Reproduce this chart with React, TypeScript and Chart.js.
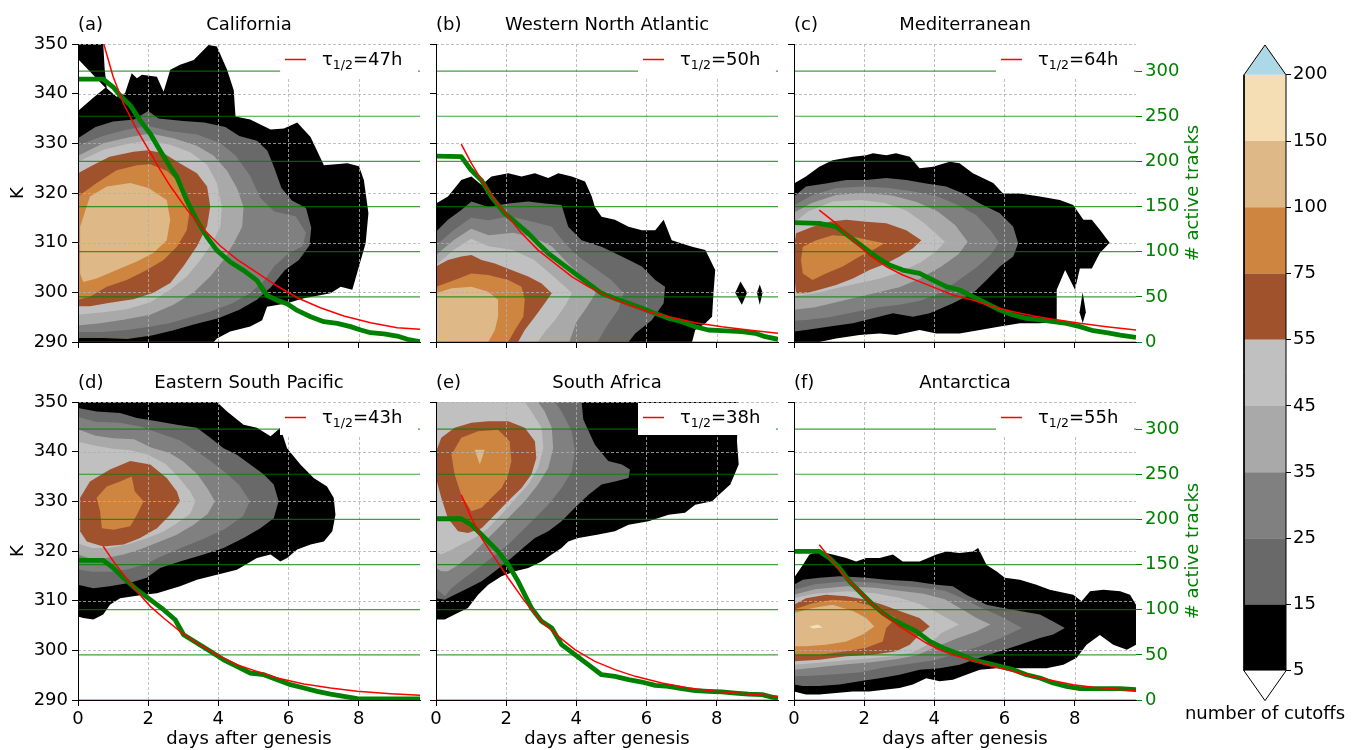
import React, { useEffect, useRef } from 'react';
import { Chart, registerables } from 'chart.js';

Chart.register(...registerables);

const FONT_FAMILY = '"DejaVu Sans", "Liberation Sans", sans-serif';
Chart.defaults.font.family = FONT_FAMILY;
Chart.defaults.font.size = 18;
Chart.defaults.color = '#000000';

// ---------- axis ranges ----------
const DAY_MIN = 0;
const DAY_MAX = 9.75;
const DAY_STEP = 2;
const K_MIN = 290;
const K_MAX = 350;
const K_STEP = 10;
const TRACKS_MIN = 0;
const TRACKS_MAX = 330;
const TRACKS_STEP = 50;

// ---------- colour levels ----------
const LEVEL_LABELS = ['5', '15', '25', '35', '45', '55', '75', '100', '150', '200'];
const LEVEL_COLORS = ['#000000', '#696969', '#808080', '#a9a9a9', '#c0c0c0', '#a0522d', '#cd853f', '#deb887', '#f5deb3'];
const OVER_COLOR = '#add8e6';
const UNDER_COLOR = '#ffffff';
const EXTEND = 0.45;

// ---------- panel texts ----------
const PANEL_LETTERS = ['(a)', '(b)', '(c)', '(d)', '(e)', '(f)'];
const PANEL_TITLES = ['California', 'Western North Atlantic', 'Mediterranean', 'Eastern South Pacific', 'South Africa', 'Antarctica'];
const HALF_LIFE_HOURS = [47, 50, 64, 43, 38, 55];

// ---------- active tracks (day, count) ----------
const caTracks = [[0, 291], [0.72, 291], [1.0, 282.3], [1.2, 273], [1.49, 262], [1.77, 245.4], [2.06, 230.6], [2.34, 212], [2.63, 193.7], [2.82, 182.6], [3.1, 156.8], [3.39, 134.7], [3.68, 116.2], [3.96, 101.5], [4.34, 88.6], [4.72, 79.3], [5.1, 68.3], [5.39, 51.7], [5.68, 46.1], [5.96, 42.4], [6.25, 35], [6.63, 28], [7.01, 22.5], [7.39, 20.7], [7.77, 17], [8.06, 13.3], [8.34, 10.3], [8.72, 8.9], [9.1, 6.6], [9.39, 3], [9.75, 0.4]];
const wnaTracks = [[0, 205.9], [0.72, 205.2], [1.0, 190.4], [1.29, 179.3], [1.58, 160.9], [1.96, 142.4], [2.25, 133.2], [2.63, 120.3], [2.91, 109.2], [3.2, 98.2], [3.58, 87.1], [3.96, 76], [4.34, 64.9], [4.72, 53.9], [5.1, 48.3], [5.49, 42.8], [5.87, 37.3], [6.25, 31.7], [6.63, 26.2], [7.01, 22.5], [7.39, 16.9], [7.77, 13.3], [8.15, 12.5], [8.72, 11.4], [9.1, 9.6], [9.39, 5.9], [9.75, 3]];
const medTracks = [[0, 132.1], [0.72, 131.4], [1.2, 127.7], [1.58, 116.6], [1.96, 105.5], [2.34, 94.5], [2.72, 85.2], [3.1, 79.7], [3.58, 76], [3.96, 68.6], [4.34, 61.3], [4.72, 57.6], [5.1, 50.2], [5.49, 42.8], [5.87, 35.4], [6.25, 29.9], [6.63, 26.2], [7.01, 24.4], [7.39, 22.5], [7.77, 20.7], [8.15, 17], [8.53, 12.5], [8.91, 10.3], [9.3, 7.7], [9.75, 5.2]];
const espTracks = [[0, 154.6], [0.72, 154.6], [1.01, 146.1], [1.3, 135.1], [1.68, 122.1], [2.06, 111.1], [2.44, 100], [2.77, 88.9], [3.01, 72.3], [3.39, 63.1], [3.77, 53.9], [4.15, 44.6], [4.53, 37.3], [4.91, 29.9], [5.3, 28], [5.68, 22.5], [6.06, 17], [6.44, 13.3], [6.82, 9.6], [7.2, 6.6], [7.58, 4.1], [7.96, 1.5], [8.34, 1.1], [9.75, 1.1]];
const safTracks = [[0, 200.7], [0.72, 200.7], [1.01, 194.1], [1.3, 183], [1.58, 171.9], [1.77, 164.6], [2.06, 149.8], [2.34, 131.4], [2.72, 101.8], [3.01, 87.1], [3.3, 79.7], [3.58, 61.3], [3.96, 50.2], [4.34, 39.1], [4.72, 28], [5.1, 26.2], [5.49, 22.5], [5.87, 19.9], [6.25, 16.2], [6.63, 15.1], [7.01, 12.5], [7.39, 10.3], [7.77, 9.6], [8.15, 8.9], [8.53, 7.7], [8.91, 6.6], [9.3, 5.9], [9.75, 1.5]];
const antTracks = [[0, 164.6], [0.72, 164.6], [1.01, 157.2], [1.3, 146.1], [1.58, 131.4], [1.96, 116.6], [2.25, 105.5], [2.53, 96.3], [2.82, 88.9], [3.1, 83.4], [3.49, 76], [3.87, 65], [4.25, 57.6], [4.63, 52], [5.1, 44.6], [5.49, 41], [5.87, 37.3], [6.25, 33.6], [6.63, 28], [7.01, 24.4], [7.39, 18.8], [7.77, 15.1], [8.15, 12.5], [8.72, 12.5], [9.3, 12.5], [9.75, 11.4]];

// ---------- exponential fits (day, count) ----------
const caFit = [[0.72, 332], [1.0, 294], [1.29, 264.6], [1.68, 235], [2.01, 213], [2.34, 191], [2.63, 172.7], [3.1, 146.9], [3.58, 124.7], [4.06, 106.3], [4.53, 91.5], [5.1, 76.8], [5.68, 62], [6.25, 49], [6.91, 38], [7.58, 28.8], [8.34, 21.4], [9.1, 15.9], [9.75, 14]];
const wnaFit = [[0.72, 219.2], [1.01, 197.8], [1.3, 179.3], [1.68, 157.2], [2.06, 138.7], [2.44, 120.3], [2.91, 101.8], [3.39, 87.1], [3.87, 72.3], [4.34, 61.3], [4.91, 50.2], [5.49, 41], [6.06, 33.6], [6.63, 28], [7.39, 21.4], [8.15, 17], [8.91, 13.3], [9.75, 9.6]];
const medFit = [[0.72, 146.1], [1.2, 131.4], [1.68, 112.9], [2.15, 96.3], [2.63, 83.4], [3.1, 74.2], [3.58, 66.8], [4.06, 59.4], [4.53, 52], [5.1, 46.5], [5.68, 39.1], [6.25, 33.6], [6.82, 28.8], [7.39, 25.1], [8.15, 20.7], [8.91, 17], [9.75, 13.3]];
const espFit = [[0.72, 170.1], [1.01, 153.5], [1.3, 138.7], [1.68, 120.3], [2.06, 103.7], [2.44, 90.8], [2.91, 76], [3.39, 63.1], [3.96, 50.2], [4.53, 39.1], [5.1, 31.7], [5.68, 24.4], [6.44, 17.7], [7.2, 13.3], [7.96, 9.6], [8.91, 7], [9.75, 5.2]];
const safFit = [[0.72, 227.3], [1.01, 201.5], [1.3, 179.3], [1.68, 157.2], [2.06, 135.1], [2.53, 109.2], [3.01, 87.1], [3.49, 70.5], [3.96, 55.7], [4.53, 42.8], [5.1, 33.6], [5.68, 26.2], [6.44, 18.8], [7.2, 13.3], [7.96, 9.6], [8.91, 6.6], [9.75, 4.1]];
const antFit = [[0.72, 172], [1.1, 153.5], [1.49, 135.1], [1.87, 120.3], [2.25, 105.5], [2.63, 92.6], [3.01, 81.5], [3.39, 72.3], [3.77, 63.1], [4.15, 55.7], [4.53, 50.2], [5.01, 44.6], [5.49, 39.1], [5.96, 34.7], [6.44, 29.9], [6.91, 25.1], [7.39, 21.4], [7.96, 17], [8.53, 14], [9.1, 12.5], [9.75, 10.3]];

// ---------- contour outlines: [level index, (day, K) ring] ----------
const caRings: [number, number[][]][] = [
  [0, [[0, 350], [0.72, 350], [0.76, 345], [0.82, 341.1], [1.1, 339.4], [1.34, 340.1], [1.53, 344.1], [1.68, 343.1], [1.82, 343.8], [2.25, 343.4], [2.44, 340.4], [2.63, 344.8], [2.91, 345.8], [3.3, 346.8], [3.72, 349.8], [3.96, 349.5], [4.25, 344.8], [4.44, 340.7], [4.49, 335.4], [4.91, 334.8], [5.49, 332.8], [5.87, 333], [6.25, 334.2], [6.63, 331.3], [7.01, 325.6], [7.68, 326], [8.01, 325.4], [8.15, 322.6], [8.28, 315.9], [8.2, 309.9], [8.01, 305.2], [7.82, 300.5], [7.49, 301.1], [7.2, 299.8], [6.44, 298.8], [5.96, 297.8], [5.39, 297.1], [5.25, 294.4], [4.91, 293.1], [4.34, 292.1], [3.96, 290.7], [3.87, 290], [0, 290], [0, 336.5], [0.4, 339], [0.78, 341.2], [0.4, 344], [0, 347]]],
  [1, [[0, 331], [0.5, 333.3], [1.0, 334.4], [1.6, 334.8], [2.0, 336.5], [2.3, 335], [3.0, 334.5], [3.6, 334.2], [4.2, 333.3], [4.6, 331.5], [5.1, 330.5], [5.4, 328.5], [5.6, 325], [5.8, 321], [6.1, 318.5], [6.5, 317], [6.65, 313], [6.6, 309.5], [6.3, 306.5], [5.9, 304.5], [5.5, 301], [5.1, 298.5], [4.6, 296.5], [4.0, 294.8], [3.3, 293.5], [2.7, 292.3], [2.1, 291.3], [1.4, 290.6], [0.7, 290.8], [0, 290.8]]],
  [2, [[0, 329.5], [0.7, 331.5], [1.4, 332.8], [2.0, 333.5], [2.6, 332.5], [3.4, 331.8], [4.06, 330], [4.5, 327.5], [4.9, 323.5], [5.2, 319], [5.6, 316.3], [6.2, 315.3], [6.5, 312], [6.4, 309.3], [6.0, 307.8], [5.6, 305.3], [5.3, 302.3], [4.9, 299.8], [4.4, 297.8], [3.8, 296.2], [3.2, 295], [2.6, 293.8], [2.0, 293], [1.4, 292.4], [0.7, 292], [0, 292]]],
  [3, [[0, 327.5], [0.72, 330], [1.49, 331.3], [2.06, 332], [2.72, 331], [3.39, 329.5], [3.87, 327.5], [4.25, 324.5], [4.53, 321], [4.72, 317.2], [4.68, 313.2], [4.44, 309.9], [4.15, 306.5], [3.77, 303.2], [3.3, 300], [2.72, 297.5], [2.06, 295.5], [1.3, 294.5], [0.63, 293.8], [0, 293.3]]],
  [4, [[0, 326.3], [0.72, 328.7], [1.49, 330], [2.06, 330.5], [2.63, 329.7], [3.2, 328.2], [3.68, 325.7], [3.96, 322], [4.1, 317.2], [4.06, 313.2], [3.82, 309.9], [3.49, 306.5], [3.1, 303.2], [2.63, 300.5], [2.06, 298], [1.39, 296.6], [0.72, 296], [0, 295.5]]],
  [5, [[0, 324], [0.34, 325.3], [0.9, 327.3], [1.58, 328.3], [2.0, 328.6], [2.44, 328], [2.9, 326], [3.39, 324], [3.68, 321.3], [3.77, 317.3], [3.68, 313.3], [3.39, 309.3], [3.01, 305.3], [2.63, 301.9], [2.15, 299.9], [1.58, 298.6], [0.91, 297.9], [0.34, 297.2], [0, 297.2]]],
  [6, [[0, 319.3], [0.53, 322], [1.1, 324.6], [1.68, 325.6], [2.06, 325.8], [2.53, 324.5], [3.01, 321.3], [3.2, 317.2], [3.1, 312.5], [2.82, 309.2], [2.44, 306.5], [1.96, 304.5], [1.39, 302.5], [0.82, 301.1], [0.34, 299.1], [0, 298.5]]],
  [7, [[0.06, 303.8], [0.06, 313.2], [0.34, 319.3], [0.82, 321.3], [1.49, 322], [2.01, 321], [2.53, 318.6], [2.63, 314.6], [2.53, 310.5], [2.15, 307.9], [1.68, 306.2], [1.1, 304.5], [0.53, 302.8], [0.15, 302.1]]],
];

const wnaRings: [number, number[][]][] = [
  [0, [[0, 317.9], [0.34, 319.3], [0.72, 322.6], [1.01, 323.3], [1.3, 321.6], [1.58, 323.3], [2.06, 324], [2.44, 323.3], [2.82, 324], [3.2, 323], [3.49, 324], [3.87, 323.3], [4.25, 322.3], [4.44, 319.3], [4.53, 317.2], [4.72, 315.2], [5.1, 314.6], [5.49, 313.2], [5.87, 312.5], [6.25, 312.5], [6.49, 314.6], [6.72, 310.5], [7.3, 309.2], [7.68, 308.5], [7.96, 304.5], [7.91, 299.8], [7.87, 295.1], [7.68, 293.8], [7.39, 292.4], [7.3, 290], [0, 290]]],
  [0, [[8.53, 299.9], [8.68, 302.2], [8.87, 299.9], [8.72, 297.5]]],
  [0, [[9.15, 299.9], [9.23, 301.6], [9.31, 299.9], [9.23, 297.5]]],
  [1, [[0, 312.2], [0.34, 314.6], [0.72, 316.6], [1.01, 318.3], [1.49, 317.2], [2.06, 317.9], [2.63, 318.3], [3.1, 317.9], [3.58, 317.6], [3.77, 313.2], [4.15, 310.5], [4.72, 309.2], [5.3, 307.2], [5.87, 305.2], [6.25, 302.5], [6.53, 301.1], [6.49, 297.8], [6.15, 294.4], [5.68, 291.7], [5.49, 290], [0, 290]]],
  [2, [[0, 309.5], [0.5, 312.5], [1.0, 315], [1.5, 314.5], [2.1, 315.3], [2.7, 314.3], [3.3, 313.2], [3.6, 310.5], [4.0, 307.5], [4.5, 305], [5.0, 302.5], [5.35, 299.8], [5.2, 296.5], [4.9, 293.5], [4.6, 290], [0, 290]]],
  [3, [[0, 307.5], [0.5, 310.5], [1.0, 312.8], [1.5, 311.5], [2.2, 312], [2.8, 311], [3.3, 309.3], [3.7, 306.3], [4.1, 303.5], [4.5, 300.8], [4.55, 299.8], [4.3, 297], [4.0, 294], [3.8, 290], [0, 290]]],
  [4, [[0, 305.5], [0.5, 308.5], [1.0, 310.8], [1.5, 309.3], [2.2, 308.5], [2.8, 306.5], [3.3, 303.5], [3.7, 301], [3.87, 299.8], [3.7, 297.5], [3.4, 294.5], [3.1, 292], [2.9, 290], [0, 290]]],
  [5, [[0, 305.2], [0.34, 306.5], [0.72, 307.2], [1.01, 307.5], [1.3, 306.5], [1.68, 305.8], [2.15, 304.5], [2.63, 303.2], [3.01, 301.8], [3.3, 299.8], [3.1, 297.8], [2.82, 295.1], [2.53, 292.4], [2.34, 290], [0, 290]]],
  [6, [[0, 301.1], [0.53, 302.5], [1.01, 303.8], [1.49, 303.5], [2.06, 302.5], [2.44, 301.1], [2.53, 298.5], [2.49, 295.1], [2.25, 292.4], [2.06, 290], [0, 290]]],
  [7, [[0, 299.8], [0.44, 300.8], [1.01, 301.1], [1.49, 300.1], [1.77, 298.5], [1.77, 295.1], [1.68, 292.4], [1.49, 290], [0, 290]]],
];

const medRings: [number, number[][]][] = [
  [0, [[0, 321.9], [0.34, 323.3], [0.72, 325.3], [1.1, 326.6], [1.68, 327.3], [2.06, 327.6], [2.25, 328], [2.63, 327.6], [2.91, 328], [3.3, 327.3], [3.58, 325], [3.96, 325.3], [4.44, 326.3], [4.72, 326], [5.1, 324], [5.68, 322], [5.96, 319.9], [6.44, 319.9], [7.01, 319.3], [7.58, 318.6], [7.96, 317.6], [8.25, 314.6], [8.49, 314.6], [8.72, 312.6], [9.0, 310], [8.72, 307.9], [8.49, 304.8], [8.15, 304.8], [8.01, 300.5], [7.73, 304.5], [7.49, 300.5], [7.49, 294.1], [7.01, 293.8], [6.44, 293.8], [5.87, 293.1], [5.3, 292.4], [4.72, 291.7], [4.06, 291.7], [3.58, 292.4], [2.91, 291.4], [2.44, 291.7], [1.87, 291.4], [1.2, 290.7], [0.72, 290], [0, 290]]],
  [0, [[8.23, 300], [8.32, 296], [8.23, 293.8], [8.14, 296]]],
  [1, [[0, 319.3], [0.34, 321.3], [0.91, 321.9], [1.49, 322.6], [2.06, 322.6], [2.63, 323], [3.2, 322.6], [3.77, 321.9], [4.34, 321.3], [4.82, 319.9], [5.3, 317.9], [5.87, 315.9], [6.25, 313.2], [6.39, 309.9], [6.25, 307.2], [5.87, 305.2], [5.49, 302.5], [5.1, 299.8], [4.53, 297.8], [3.87, 295.8], [3.39, 295.1], [2.82, 295.8], [2.25, 294.8], [1.68, 293.8], [1.01, 293.1], [0.34, 292.4], [0, 292.1]]],
  [2, [[0, 317.5], [0.5, 319.5], [1.2, 321], [2, 321.3], [2.7, 321], [3.4, 320.3], [4.1, 319.3], [4.7, 317.5], [5.2, 315.5], [5.6, 312.5], [5.85, 310], [5.6, 307.5], [5.2, 305], [4.7, 302.5], [4.2, 300], [3.6, 298.3], [3.0, 297.5], [2.4, 297], [1.7, 296], [1.0, 295], [0.4, 294.5], [0, 294.3]]],
  [3, [[0, 316], [0.5, 318], [1.2, 319.6], [2, 320], [2.8, 319.5], [3.5, 318.2], [4.1, 316.3], [4.6, 313.5], [4.95, 310.2], [4.7, 307.7], [4.2, 305.2], [3.6, 302.8], [3.0, 301], [2.4, 300], [1.8, 299], [1.2, 298], [0.6, 297], [0, 296.5]]],
  [4, [[0, 314], [0.4, 316.3], [1.1, 318.3], [1.9, 318.6], [2.6, 318], [3.2, 316.5], [3.7, 314], [4.1, 311.5], [4.3, 310.2], [4.05, 308.2], [3.6, 306], [3.0, 304], [2.4, 302.7], [1.8, 301.8], [1.2, 300.8], [0.6, 299.8], [0, 299.2]]],
  [5, [[0, 309.2], [0.06, 311.9], [0.53, 313.2], [1.01, 314.2], [1.49, 314.6], [2.06, 314.2], [2.63, 313.9], [3.2, 312.5], [3.63, 310.5], [3.39, 308.9], [3.01, 307.2], [2.63, 305.8], [2.15, 304.5], [1.68, 302.8], [1.2, 301.5], [0.72, 300.5], [0.34, 299.8], [0.06, 299.8], [0, 303.8]]],
  [6, [[0.2, 306.5], [0.25, 309.2], [0.63, 310.5], [1.1, 311.5], [1.68, 311.2], [2.15, 310.5], [2.58, 309.9], [2.25, 308.5], [1.87, 307.2], [1.39, 305.2], [0.91, 303.8], [0.53, 302.5], [0.25, 303.8]]],
];

const espRings: [number, number[][]][] = [
  [0, [[0, 350], [3.96, 350], [4.25, 348.1], [4.72, 345.4], [5.1, 344.8], [5.49, 343.1], [5.77, 344.8], [5.96, 340.7], [6.34, 337.4], [6.72, 334.7], [7.1, 333], [7.29, 330.7], [7.34, 327.3], [7.25, 324], [7.01, 321.9], [6.63, 321.3], [6.25, 320.3], [5.96, 318.6], [5.77, 317.9], [5.49, 319.3], [5.1, 318.6], [4.53, 316.2], [3.96, 315.2], [3.39, 314.2], [2.91, 312.9], [2.25, 311.5], [1.87, 311.2], [1.58, 310.9], [1.2, 310.5], [0.91, 309.2], [0.72, 307.2], [0.44, 306.2], [0.15, 306.5], [0, 306.8]]],
  [1, [[0, 348.8], [0.53, 348.1], [1.2, 347.8], [1.68, 346.8], [2.25, 346.1], [2.82, 345.4], [3.39, 344.8], [3.77, 342.8], [4.15, 340.7], [4.53, 339.4], [4.91, 337.4], [5.3, 335.4], [5.58, 333.4], [5.72, 330], [5.58, 326.6], [5.2, 324.6], [4.72, 322.6], [4.15, 320.6], [3.58, 319.3], [2.91, 317.9], [2.34, 316.6], [1.96, 314.6], [1.49, 313.6], [0.91, 312.9], [0.44, 312.5], [0, 313.2]]],
  [2, [[0, 347], [0.5, 346], [1.2, 345.8], [1.8, 345], [2.4, 343.5], [2.9, 342.3], [3.4, 340], [3.8, 338], [4.2, 335.8], [4.6, 333.3], [4.9, 330], [4.7, 327], [4.2, 324.5], [3.6, 322.5], [3.0, 320.8], [2.4, 319], [1.9, 317.3], [1.4, 316.3], [0.9, 315.8], [0.4, 315.8], [0, 316.3]]],
  [3, [[0, 344.5], [0.5, 343.2], [1.0, 342.7], [1.6, 342.5], [2.1, 340.8], [2.6, 339.8], [3.0, 338], [3.4, 335.5], [3.7, 332.5], [3.9, 330], [3.7, 327.5], [3.3, 325.3], [2.8, 323.2], [2.3, 321.8], [1.8, 320.4], [1.3, 319.3], [0.8, 318.6], [0.3, 318.6], [0, 319.3]]],
  [4, [[0, 342], [0.5, 341.2], [1.0, 340.6], [1.5, 340.3], [2.0, 339.4], [2.5, 337.5], [2.85, 335], [3.2, 332], [3.35, 330], [3.2, 327.5], [2.8, 325.5], [2.4, 323.8], [1.9, 322.4], [1.4, 321.3], [0.9, 320.6], [0.4, 320.6], [0, 321.5]]],
  [5, [[0.06, 330.7], [0.34, 334], [0.91, 336.4], [1.49, 338.1], [2.06, 337.4], [2.53, 334.7], [2.82, 332], [2.91, 330], [2.63, 327.3], [2.25, 324.6], [1.77, 322.6], [1.3, 321.3], [0.72, 320.9], [0.25, 321.9], [0.06, 324]]],
  [6, [[0.63, 328], [0.53, 330.7], [0.82, 333], [1.2, 334], [1.53, 335], [1.62, 332], [1.87, 330], [1.68, 327.3], [1.49, 325], [1.01, 324.3], [0.68, 324.6]]],
];

const safRings: [number, number[][]][] = [
  [0, [[0, 350], [8.63, 350], [8.58, 342.1], [8.63, 337.4], [8.39, 333.4], [8.06, 331.3], [7.87, 330], [7.39, 329.3], [7.1, 327.7], [6.63, 327.3], [6.06, 326], [5.49, 325.3], [5.1, 324], [4.63, 323.3], [4.06, 322.6], [3.77, 321.9], [3.58, 320.6], [3.3, 319.3], [3.01, 317.9], [2.63, 316.6], [2.25, 315.9], [1.87, 314.9], [1.49, 313.2], [1.2, 311.2], [0.91, 308.5], [0.53, 307.2], [0.25, 306.2], [0, 306.2]]],
  [1, [[0, 350], [4.15, 350], [4.2, 346.5], [4.53, 341.4], [4.91, 338.1], [5.3, 337.4], [5.53, 336.4], [5.49, 334.7], [5.1, 334], [4.72, 333.4], [4.34, 331.3], [3.96, 328.7], [3.58, 326], [3.2, 324], [2.82, 322.6], [2.53, 320.9], [2.15, 318.6], [1.68, 315.9], [1.3, 313.9], [0.91, 312.5], [0.53, 311.2], [0.25, 310.2], [0, 310.5]]],
  [2, [[0, 350], [3.39, 350], [3.58, 348.1], [3.87, 344.1], [3.96, 340.1], [3.87, 336], [3.58, 332.7], [3.2, 329.3], [2.82, 326.6], [2.44, 324], [2.06, 321.3], [1.58, 318.6], [1.2, 316.6], [0.82, 314.6], [0.44, 312.5], [0.25, 310.9], [0, 312.5]]],
  [3, [[0, 350], [2.91, 350], [3.1, 348.1], [3.3, 344.8], [3.34, 340.7], [3.2, 336.7], [2.91, 333.4], [2.53, 330], [2.15, 327.3], [1.77, 324.6], [1.39, 321.9], [1.01, 319.3], [0.63, 317.2], [0.34, 315.9], [0.15, 315.9], [0, 316.6]]],
  [4, [[0, 350], [2.53, 350], [2.72, 348.1], [3.01, 344.8], [3.06, 340.7], [2.91, 336.7], [2.63, 333.4], [2.29, 330.7], [1.91, 327.7], [1.49, 324.6], [1.1, 322.6], [0.72, 321.3], [0.34, 319.9], [0.15, 319.3], [0, 319.9]]],
  [5, [[0, 340], [0.15, 342.8], [0.53, 344.8], [1.01, 345.8], [1.49, 346.1], [2.06, 346.1], [2.53, 344.8], [2.82, 342.1], [2.86, 338.7], [2.72, 335.4], [2.44, 332.7], [2.15, 330.7], [1.87, 328.7], [1.58, 326.6], [1.3, 324.6], [0.91, 323.6], [0.63, 324], [0.34, 326.6], [0.15, 330.7], [0, 334.7]]],
  [6, [[0.53, 335.4], [0.44, 339.4], [0.72, 342.8], [1.2, 344.1], [1.77, 344.4], [2.1, 342.1], [2.15, 338.1], [2.06, 335.4], [1.87, 332.7], [1.58, 330.7], [1.3, 328.7], [1.01, 328], [0.72, 331.3]]],
  [7, [[1.1, 340.4], [1.39, 340.4], [1.25, 337.4]]],
];

const antRings: [number, number[][]][] = [
  [0, [[0, 314.6], [0.25, 317.2], [0.44, 319.3], [0.72, 319.9], [1.1, 319.3], [1.49, 318.6], [1.77, 317.9], [2.06, 318.6], [2.44, 318.6], [2.82, 319.3], [3.1, 317.9], [3.58, 317.9], [4.06, 319.3], [4.34, 319.9], [4.72, 319.6], [5.1, 319.9], [5.25, 320.6], [5.49, 317.2], [5.77, 315.9], [6.01, 314.6], [6.44, 314.2], [6.91, 313.2], [7.29, 312.2], [7.96, 311.2], [8.2, 309.9], [8.44, 311.9], [8.82, 312.2], [9.3, 311.9], [9.58, 311.2], [9.75, 309.2], [9.75, 301.1], [9.49, 300.1], [9.1, 301.1], [8.72, 303.1], [8.34, 301.1], [8.06, 298.5], [7.68, 297.1], [7.2, 296.4], [6.44, 296.4], [5.77, 296.4], [5.3, 296.1], [4.91, 295.1], [4.53, 294.1], [4.15, 293.8], [3.77, 294.4], [3.39, 293.1], [3.01, 292.4], [2.63, 292.1], [2.15, 291.7], [1.68, 291.7], [1.2, 291.4], [0.72, 291.1], [0.34, 291.1], [0, 291.7]]],
  [1, [[0, 313.2], [0.25, 314.2], [0.72, 314.6], [1.3, 314.9], [2.06, 314.6], [2.63, 314.2], [3.39, 313.9], [4.06, 313.2], [4.53, 312.9], [4.91, 311.2], [5.49, 309.2], [5.96, 308.5], [6.44, 307.9], [7.01, 307.2], [7.39, 305.8], [7.72, 304.5], [7.39, 303.2], [7.01, 302.5], [6.44, 301.1], [5.87, 299.8], [5.3, 298.5], [4.72, 297.1], [4.15, 296.4], [3.58, 296.1], [3.01, 295.1], [2.44, 294.4], [1.87, 293.8], [1.3, 293.1], [0.72, 292.8], [0.25, 292.8], [0, 293.1]]],
  [2, [[0, 312.2], [0.6, 313.3], [1.5, 313.9], [2.3, 313.6], [3.0, 313], [3.7, 312.6], [4.3, 312], [4.8, 310.5], [5.3, 308.7], [5.9, 306.8], [6.5, 304.5], [5.9, 302.5], [5.3, 300.8], [4.7, 299.5], [4.0, 298], [3.3, 297.3], [2.6, 296.6], [1.9, 295.6], [1.2, 295.2], [0.5, 294.9], [0, 294.8]]],
  [3, [[0, 311.2], [0.6, 312.3], [1.5, 312.9], [2.3, 312.6], [3.0, 312], [3.7, 311.4], [4.3, 310.3], [4.8, 308.2], [5.2, 306.5], [5.6, 305.2], [5.2, 303.8], [4.6, 302.3], [4.1, 300.8], [3.5, 299], [2.9, 298.2], [2.2, 297.6], [1.5, 297.2], [0.7, 296.6], [0, 296.1]]],
  [4, [[0, 310.5], [0.6, 311.4], [1.5, 311.9], [2.3, 311.5], [3.0, 310.6], [3.6, 309.3], [4.1, 307.5], [4.7, 305.2], [4.2, 303.5], [3.9, 301.5], [3.4, 299.6], [2.8, 298.8], [2.2, 298.4], [1.5, 298], [0.7, 297.5], [0, 297.1]]],
  [5, [[0, 309.2], [0.34, 310.5], [0.91, 311.2], [1.49, 310.9], [2.06, 310.2], [2.53, 309.2], [3.01, 307.9], [3.58, 306.5], [3.87, 304.8], [3.58, 303.2], [3.3, 301.1], [2.91, 299.8], [2.25, 299.1], [1.49, 298.8], [0.72, 298.1], [0, 297.8]]],
  [6, [[0, 308.2], [0.53, 309.5], [1.1, 310.2], [1.68, 309.9], [2.25, 308.9], [2.63, 307.5], [2.91, 306.5], [2.63, 304.5], [2.53, 301.8], [2.06, 300.5], [1.49, 299.8], [0.72, 299.1], [0, 299.1]]],
  [7, [[0, 307.5], [0.53, 308.5], [1.1, 309.2], [1.68, 307.9], [2.06, 306.5], [2.29, 304.8], [1.96, 303.2], [1.49, 301.8], [0.91, 301.1], [0.34, 300.8], [0, 300.8]]],
  [8, [[0.44, 304.8], [0.68, 305.2], [0.82, 304.6], [0.53, 304.4]]],
];

const PANEL_TRACKS = [caTracks, wnaTracks, medTracks, espTracks, safTracks, antTracks];
const PANEL_FITS = [caFit, wnaFit, medFit, espFit, safFit, antFit];
const PANEL_RINGS = [caRings, wnaRings, medRings, espRings, safRings, antRings];

// ---------- layout (pixels, not data) ----------
const LEFT_W = 78;
const TOP_H = 44;
const PLOT_W = 342;
const PLOT_H = 298;
const PLOT_LEFTS = [78, 436, 794];
const PLOT_TOPS = [44, 402];

const toXY = (pts: number[][]) => pts.map(([x, y]) => ({ x, y }));

function drawMplGrid(chart: any) {
  const { ctx, chartArea: ca, scales } = chart;
  ctx.save();
  ctx.lineWidth = 0.8;
  ctx.strokeStyle = '#b0b0b0';
  ctx.setLineDash([3, 2]);
  for (const t of scales.x.ticks) {
    const p = Math.round(scales.x.getPixelForValue(t.value)) + 0.5;
    if (p <= ca.left + 1) continue;
    ctx.beginPath();
    ctx.moveTo(p, ca.top);
    ctx.lineTo(p, ca.bottom);
    ctx.stroke();
  }
  for (const t of scales.y.ticks) {
    const p = Math.round(scales.y.getPixelForValue(t.value)) + 0.5;
    if (p >= ca.bottom - 1) continue;
    ctx.beginPath();
    ctx.moveTo(ca.left, p);
    ctx.lineTo(ca.right, p);
    ctx.stroke();
  }
  ctx.setLineDash([]);
  ctx.strokeStyle = 'rgba(0,128,0,0.75)';
  ctx.lineWidth = 1.2;
  for (const t of scales.y2.ticks) {
    const p = scales.y2.getPixelForValue(t.value);
    ctx.beginPath();
    ctx.moveTo(ca.left, p);
    ctx.lineTo(ca.right, p);
    ctx.stroke();
  }
  ctx.restore();
}

function Panel({ idx }: { idx: number }) {
  const ref = useRef<HTMLCanvasElement>(null);
  const col = idx % 3;
  const row = Math.floor(idx / 3);
  const showK = col === 0;
  const showRight = col === 2;
  const bottomRow = row === 1;
  const rightW = showRight ? 75 : 4;
  const bottomH = bottomRow ? 50 : 20;
  const width = LEFT_W + PLOT_W + rightW;
  const height = TOP_H + PLOT_H + bottomH;

  useEffect(() => {
    const rings = PANEL_RINGS[idx];
    const datasets: any[] = [
      {
        data: toXY(PANEL_FITS[idx]), yAxisID: 'y2', borderColor: '#ff0000', borderWidth: 1.5,
        fill: false, pointRadius: 0, order: 0,
      },
      {
        data: toXY(PANEL_TRACKS[idx]), yAxisID: 'y2', borderColor: '#008000', borderWidth: 4.8,
        borderJoinStyle: 'round', fill: false, pointRadius: 0, order: 1, gridHere: true,
      },
      ...rings.map(([level, pts]) => ({
        data: toXY(pts), yAxisID: 'y', fill: 'shape', backgroundColor: LEVEL_COLORS[level],
        borderColor: 'rgba(0,0,0,0)', borderWidth: 0, pointRadius: 0, order: 20 - level,
      })),
    ];

    const gridPlugin = {
      id: 'mplGrid',
      beforeDatasetDraw(chart: any, args: any) {
        if (chart.data.datasets[args.index].gridHere) drawMplGrid(chart);
      },
    };

    const decorPlugin = {
      id: 'panelDecor',
      afterDraw(chart: any) {
        const { ctx, chartArea: ca } = chart;
        ctx.save();
        ctx.fillStyle = '#000';
        ctx.font = `18px ${FONT_FAMILY}`;
        ctx.textBaseline = 'alphabetic';
        ctx.textAlign = 'left';
        ctx.fillText(PANEL_LETTERS[idx], ca.left, ca.top - 14);
        ctx.textAlign = 'center';
        ctx.fillText(PANEL_TITLES[idx], (ca.left + ca.right) / 2, ca.top - 14);

        // legend
        ctx.fillStyle = '#ffffff';
        ctx.fillRect(ca.right - 140, ca.top + 1, 138, 32);
        ctx.strokeStyle = '#ff0000';
        ctx.lineWidth = 1.5;
        ctx.beginPath();
        ctx.moveTo(ca.right - 135, ca.top + 15.5);
        ctx.lineTo(ca.right - 114, ca.top + 15.5);
        ctx.stroke();
        ctx.fillStyle = '#000';
        ctx.textAlign = 'left';
        let tx = ca.right - 98;
        const base = ca.top + 21;
        ctx.font = `18px ${FONT_FAMILY}`;
        ctx.fillText('τ', tx, base);
        tx += ctx.measureText('τ').width;
        ctx.font = `12.5px ${FONT_FAMILY}`;
        ctx.fillText('1/2', tx, base + 4);
        tx += ctx.measureText('1/2').width;
        ctx.font = `18px ${FONT_FAMILY}`;
        ctx.fillText(`=${HALF_LIFE_HOURS[idx]}h`, tx, base);

        ctx.font = `18px ${FONT_FAMILY}`;
        if (showK) {
          ctx.save();
          ctx.translate(ca.left - 60, (ca.top + ca.bottom) / 2);
          ctx.rotate(-Math.PI / 2);
          ctx.textAlign = 'center';
          ctx.textBaseline = 'middle';
          ctx.fillText('K', 0, 0);
          ctx.restore();
        }
        if (bottomRow) {
          ctx.textAlign = 'center';
          ctx.textBaseline = 'alphabetic';
          ctx.fillText('days after genesis', (ca.left + ca.right) / 2, ca.bottom + 44);
        }
        if (showRight) {
          ctx.save();
          ctx.translate(ca.right + 57, (ca.top + ca.bottom) / 2);
          ctx.rotate(-Math.PI / 2);
          ctx.fillStyle = '#008000';
          ctx.textAlign = 'center';
          ctx.textBaseline = 'middle';
          ctx.fillText('# active tracks', 0, 0);
          ctx.restore();
        }
        ctx.restore();
      },
    };

    const chart = new Chart(ref.current as HTMLCanvasElement, {
      type: 'line',
      data: { datasets },
      options: {
        responsive: false,
        maintainAspectRatio: false,
        animation: false,
        events: [],
        layout: { padding: { left: 0, right: 0, top: TOP_H, bottom: 0 } },
        plugins: { legend: { display: false }, tooltip: { enabled: false }, title: { display: false } },
        elements: { point: { radius: 0 }, line: { tension: 0 } },
        scales: {
          x: {
            type: 'linear', position: 'bottom', min: DAY_MIN, max: DAY_MAX,
            ticks: { stepSize: DAY_STEP, includeBounds: false, autoSkip: false, maxRotation: 0, display: bottomRow, color: '#000', padding: 3, font: { size: 18 } },
            grid: { drawOnChartArea: false, drawTicks: true, tickLength: 6, tickColor: '#000', tickWidth: 1 },
            border: { display: true, color: '#000', width: 1, z: 1 },
            afterFit: (s: any) => { s.height = bottomH; },
          },
          y: {
            type: 'linear', position: 'left', min: K_MIN, max: K_MAX,
            ticks: { stepSize: K_STEP, autoSkip: false, display: showK, color: '#000', padding: 4, font: { size: 18 } },
            grid: { drawOnChartArea: false, drawTicks: true, tickLength: 6, tickColor: '#000', tickWidth: 1 },
            border: { display: true, color: '#000', width: 1, z: 1 },
            afterFit: (s: any) => { s.width = LEFT_W; },
          },
          y2: {
            type: 'linear', position: 'right', min: TRACKS_MIN, max: TRACKS_MAX,
            ticks: { stepSize: TRACKS_STEP, includeBounds: false, autoSkip: false, display: showRight, color: '#008000', padding: 3, font: { size: 18 } },
            grid: { drawOnChartArea: false, drawTicks: showRight, tickLength: 6, tickColor: '#008000', tickWidth: 1 },
            border: { display: false },
            afterFit: (s: any) => { s.width = rightW; },
          },
        },
      } as any,
      plugins: [gridPlugin, decorPlugin],
    });
    return () => chart.destroy();
  }, []);

  return (
    <canvas
      ref={ref}
      width={width}
      height={height}
      style={{ position: 'absolute', left: PLOT_LEFTS[col] - LEFT_W, top: PLOT_TOPS[row] - TOP_H, width, height }}
    />
  );
}

function Colorbar() {
  const ref = useRef<HTMLCanvasElement>(null);
  const left = 1170;
  const top = 25;
  const width = 183;
  const height = 725;
  const padTop = 20;

  useEffect(() => {
    const n = LEVEL_COLORS.length;
    const datasets: any[] = [
      {
        data: toXY([[0.5, -EXTEND], [1, 0], [1, n], [0.5, n + EXTEND], [0, n], [0, 0], [0.5, -EXTEND]]),
        borderColor: '#000', borderWidth: 1, fill: false, pointRadius: 0, order: 0, clip: false,
      },
      {
        data: toXY([[0, n], [1, n], [0.5, n + EXTEND], [0, n]]),
        fill: 'shape', backgroundColor: OVER_COLOR, borderWidth: 0, borderColor: 'rgba(0,0,0,0)', pointRadius: 0, order: 1, clip: false,
      },
      {
        data: toXY([[0, 0], [1, 0], [0.5, -EXTEND], [0, 0]]),
        fill: 'shape', backgroundColor: UNDER_COLOR, borderWidth: 0, borderColor: 'rgba(0,0,0,0)', pointRadius: 0, order: 1, clip: false,
      },
      ...LEVEL_COLORS.map((c, i) => ({
        data: toXY([[0, i], [1, i], [1, i + 1], [0, i + 1], [0, i]]),
        fill: 'shape', backgroundColor: c, borderWidth: 0, borderColor: 'rgba(0,0,0,0)', pointRadius: 0, order: 2,
      })),
    ];

    const cbTitle = {
      id: 'cbTitle',
      afterDraw(chart: any) {
        const { ctx, chartArea: ca } = chart;
        ctx.save();
        ctx.fillStyle = '#000';
        ctx.font = `18px ${FONT_FAMILY}`;
        ctx.textAlign = 'center';
        ctx.textBaseline = 'alphabetic';
        ctx.fillText('number of cutoffs', (ca.left + ca.right) / 2, ca.bottom + 18.5);
        ctx.restore();
      },
    };

    const chart = new Chart(ref.current as HTMLCanvasElement, {
      type: 'line',
      data: { datasets },
      options: {
        responsive: false,
        maintainAspectRatio: false,
        animation: false,
        events: [],
        layout: { padding: { left: 74, right: 0, top: padTop, bottom: 49.4 } },
        plugins: { legend: { display: false }, tooltip: { enabled: false } },
        scales: {
          x: { type: 'linear', min: 0, max: 1, display: false },
          y: {
            type: 'linear', position: 'right', min: -EXTEND, max: n + EXTEND,
            ticks: {
              stepSize: 1, includeBounds: false, autoSkip: false, padding: 2, color: '#000', font: { size: 18 },
              callback: (v: any) => (LEVEL_LABELS[v] !== undefined ? LEVEL_LABELS[v] : ''),
            },
            grid: { drawOnChartArea: false, drawTicks: true, tickLength: 5, tickColor: '#000' },
            border: { display: false },
            afterFit: (s: any) => { s.width = 67; },
          },
        },
      } as any,
      plugins: [cbTitle],
    });
    return () => chart.destroy();
  }, []);

  return (
    <canvas ref={ref} width={width} height={height} style={{ position: 'absolute', left, top, width, height }} />
  );
}

export default function App() {
  return (
    <div style={{ position: 'absolute', left: 0, top: 0, width: 1353, height: 750, background: '#ffffff', overflow: 'hidden' }}>
      {[0, 1, 2, 3, 4, 5].map((i) => (
        <Panel key={i} idx={i} />
      ))}
      <Colorbar />
    </div>
  );
}
